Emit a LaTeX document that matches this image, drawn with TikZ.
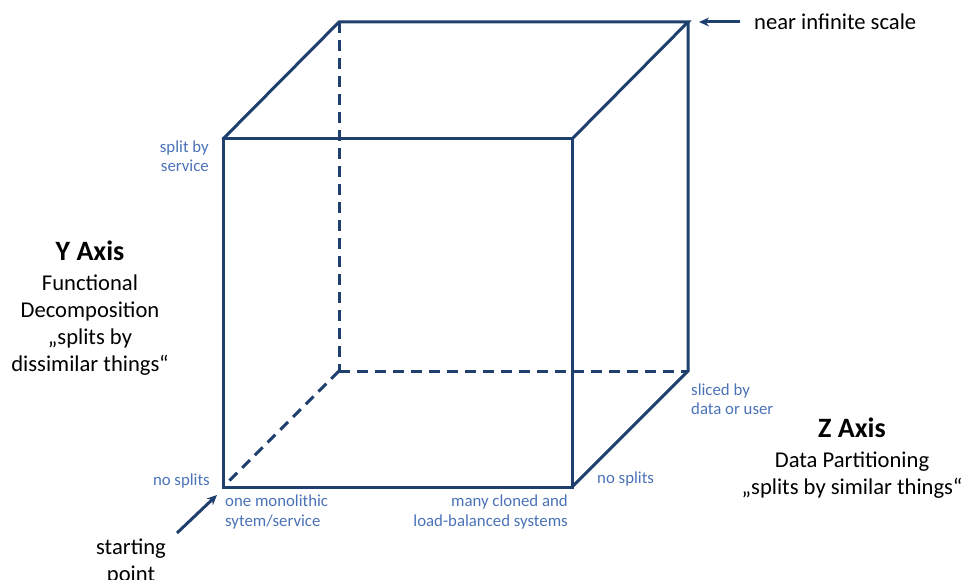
\documentclass[tikz,border=0pt]{standalone}
\usepackage{fontspec}
\setmainfont{Carlito}
\usetikzlibrary{arrows.meta}
\definecolor{edgeblue}{HTML}{1F3F6E}
\definecolor{labelblue}{HTML}{4A72B8}
\newcommand\axisheading{\fontsize{28}{27}\selectfont\bfseries}
\tikzset{
  edge/.style={draw=edgeblue, line width=3pt, line cap=round, line join=miter},
  hidden/.style={edge, dashed, dash pattern=on 11pt off 7pt, line cap=butt},
  pointer/.style={draw=edgeblue, line width=3pt, -{Stealth[length=10pt,width=9pt]}},
  lbl/.style={text=labelblue, font=\fontsize{16.8}{19.5}\selectfont, inner sep=0pt},
  head/.style={text=black, font=\fontsize{22.6}{27}\selectfont, inner sep=0pt, align=center},
}
\begin{document}
\begin{tikzpicture}[x=1pt, y=-1pt]
\useasboundingbox (0,0) rectangle (965,580);
% cube corners: front face and back face
\coordinate (fTL) at (223,139);
\coordinate (fTR) at (572,139);
\coordinate (fBL) at (223,487);
\coordinate (fBR) at (572,487);
\coordinate (bTL) at (339,22);
\coordinate (bTR) at (688,22);
\coordinate (bBL) at (339,371);
\coordinate (bBR) at (688,371);
% hidden edges
\draw[hidden] (bTL) -- (bBL);
\draw[hidden] (bBL) -- (bBR);
\draw[hidden] (bBL) -- (fBL);
% visible edges
\draw[edge] (fTL) -- (fTR) -- (fBR) -- (fBL) -- cycle;
\draw[edge] (fTL) -- (bTL) -- (bTR) -- (fTR);
\draw[edge] (bTR) -- (bBR) -- (fBR);
% pointers
\coordinate (infStart) at (740,22);
\coordinate (infEnd) at (699,22);
\draw[pointer] (infStart) -- (infEnd);
\coordinate (startTail) at (177,533);
\coordinate (startTip) at (217,495);
\draw[pointer] (startTail) -- (startTip);
% corner labels
\node[lbl, anchor=east, align=right] (splitsvc) at (209,156) {split by\\service};
\node[lbl, anchor=east] (nosplitsL) at (210,481) {no splits};
\node[lbl, anchor=west, align=left] (mono) at (225,512) {one monolithic\\sytem/service};
\node[lbl, anchor=east, align=right] (cloned) at (568,512) {many cloned and\\load-balanced systems};
\node[lbl, anchor=west] (nosplitsR) at (597,479) {no splits};
\node[lbl, anchor=west, align=left] (sliced) at (691,399) {sliced by\\data or user};
% axis descriptions
\node[head, anchor=west] (infinite) at (754,22) {near infinite scale};
\node[head] (yaxis) at (90,308.5) {{\axisheading Y Axis}\\[3pt]Functional\\Decomposition\\„splits by\\dissimilar things“};
\node[head] (zaxis) at (852,458.5) {{\axisheading Z Axis}\\[3pt]Data Partitioning\\„splits by similar things“};
\node[head] (start) at (131,562) {starting\\point};
\end{tikzpicture}
\end{document}
